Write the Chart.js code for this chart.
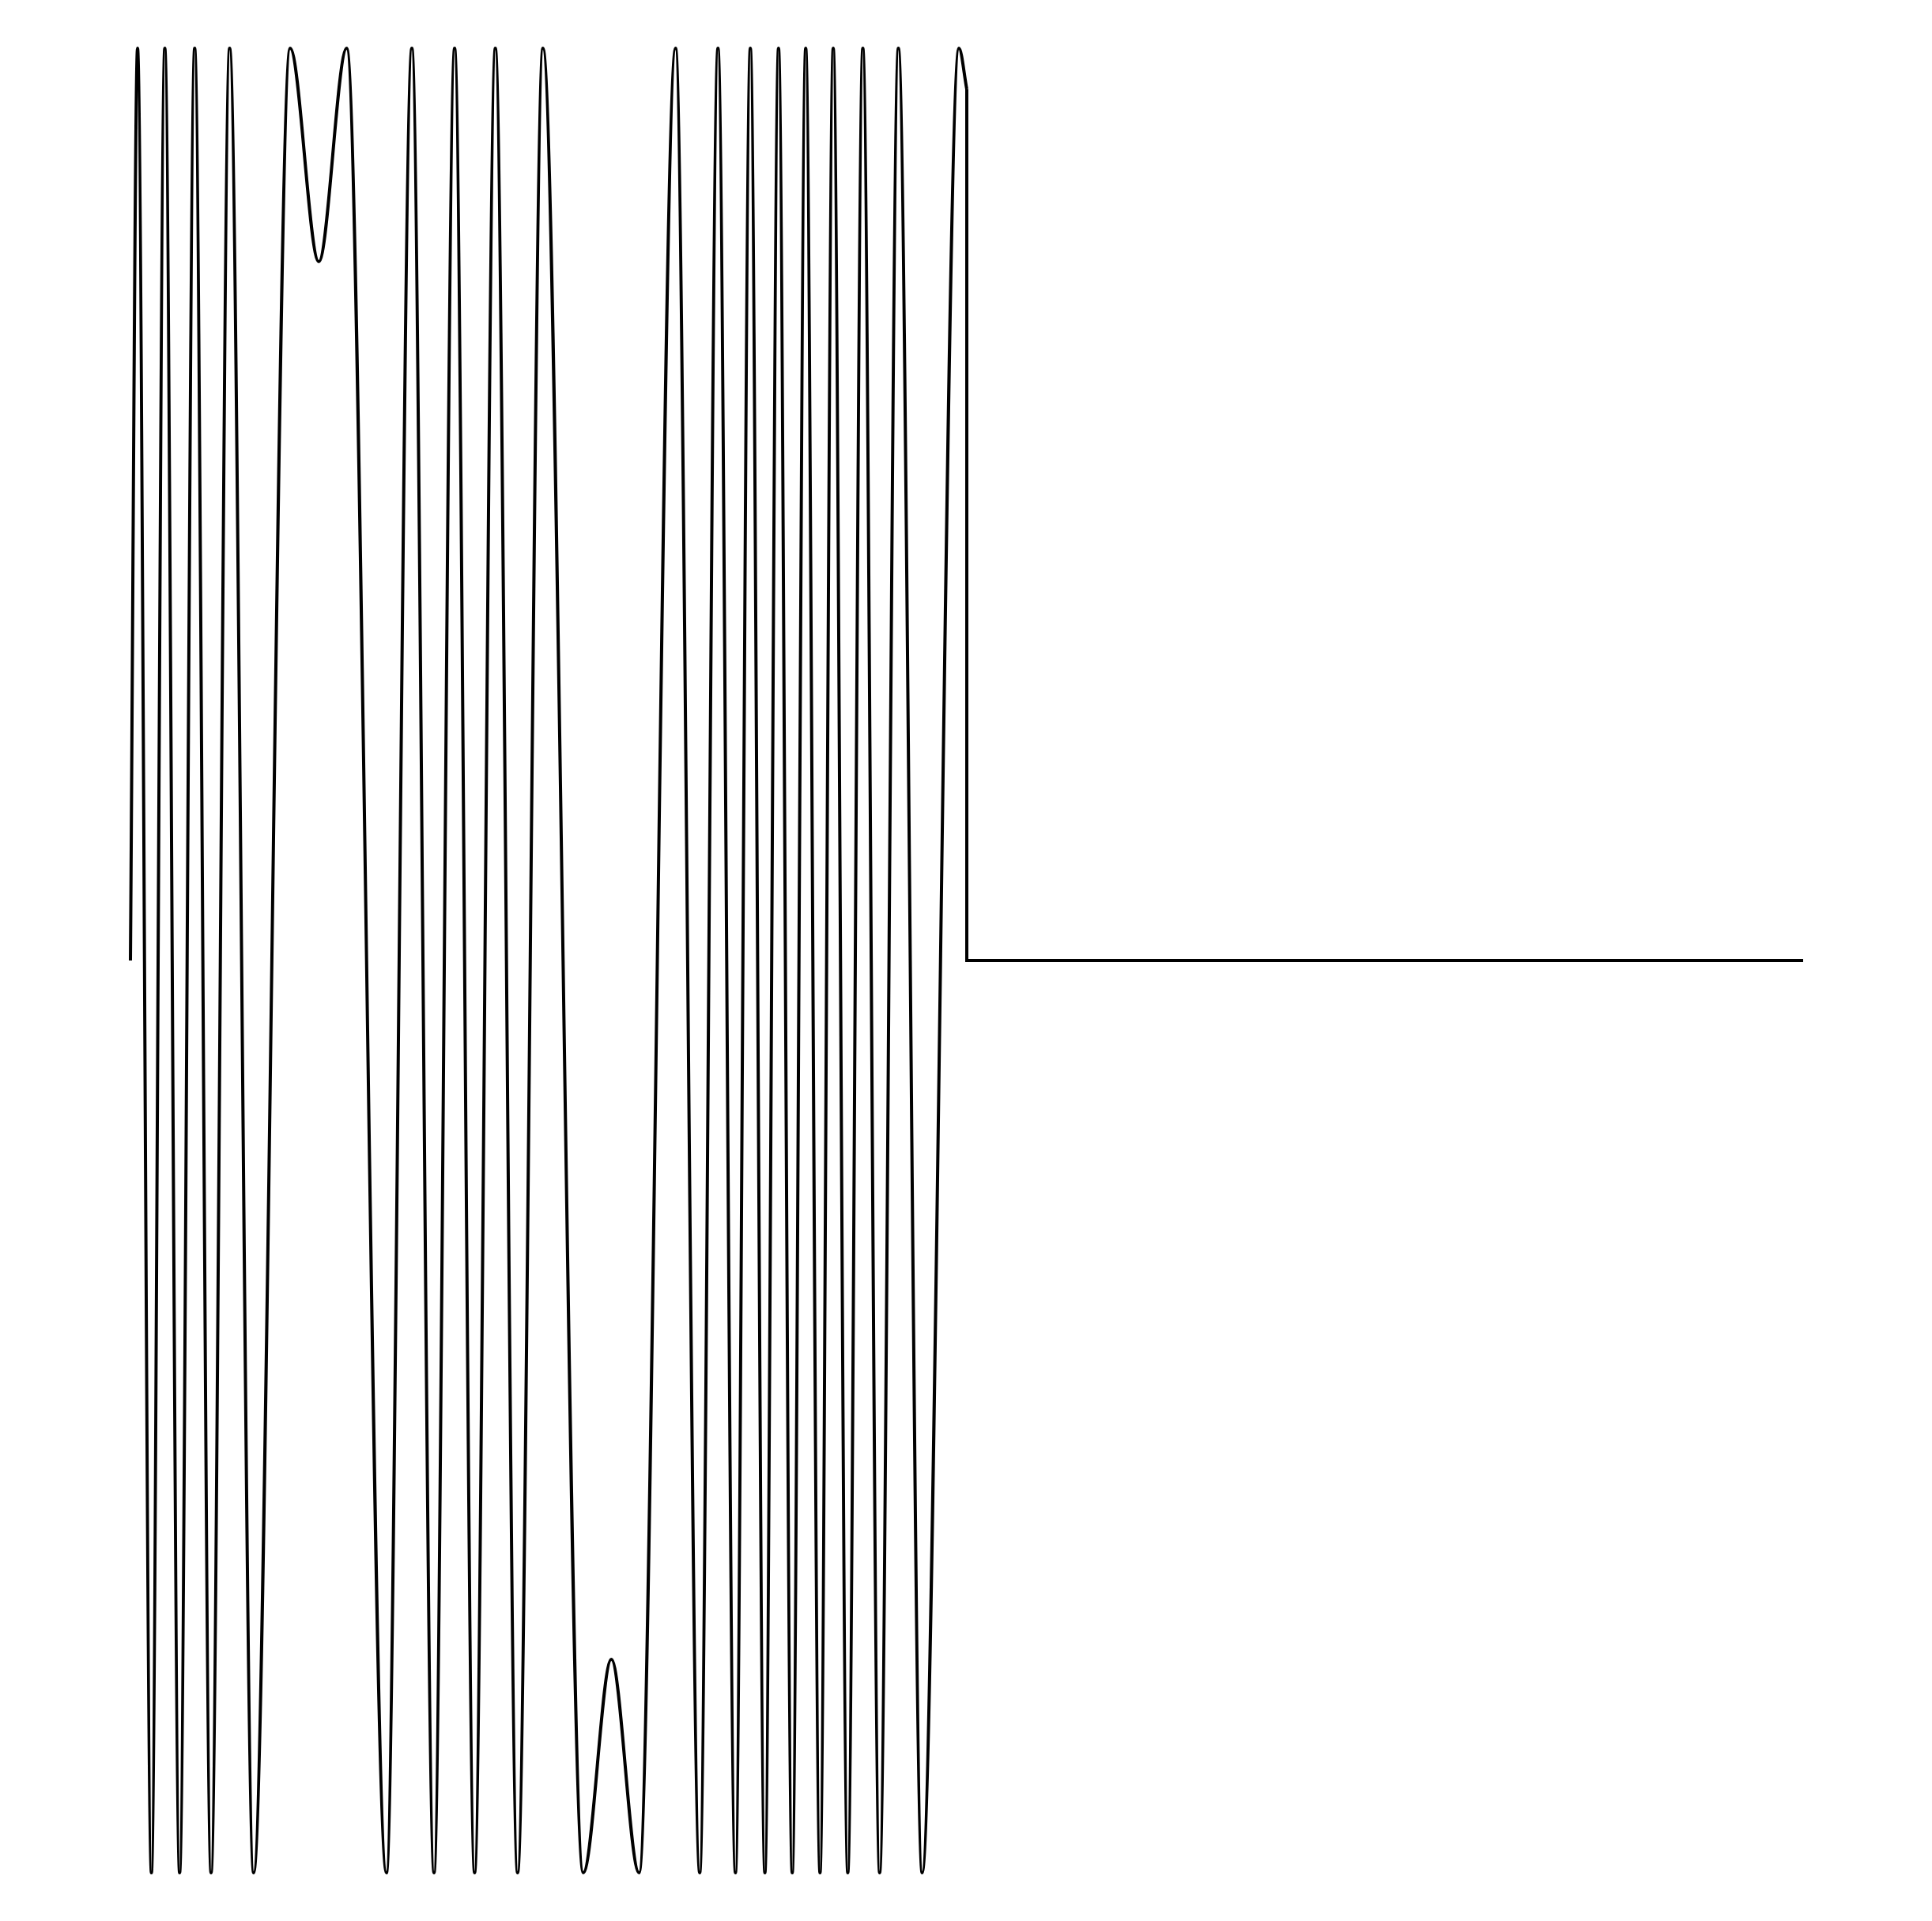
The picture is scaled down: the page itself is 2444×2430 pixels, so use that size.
<!DOCTYPE html>
<html>
<head>
<meta charset="utf-8">
<script src="https://cdn.jsdelivr.net/npm/chart.js@4.4.1/dist/chart.umd.min.js"></script>
<style>
    body { margin: 0; background: #fff; }
    #contenedor { width: 2444px; height: 2430px; }
</style>
</head>
<body>
<div id="contenedor"><canvas id="myChart"></canvas></div>
<script>
/*
    Datos: extremos de la onda (tiempo, amplitud)
*/
let tiempos = [0, 0.0085, 0.0251, 0.0411, 0.0588, 0.0768, 0.0964, 0.1186, 0.1473, 0.1909,
    0.2252, 0.2586, 0.3061, 0.3365, 0.3630, 0.3876, 0.4115, 0.4363, 0.4629, 0.4932,
    0.5414, 0.5750, 0.6082, 0.6518, 0.6807, 0.7025, 0.7234, 0.7412, 0.7586, 0.7749,
    0.7913, 0.8074, 0.8245, 0.8403, 0.8577, 0.8757, 0.8958, 0.9182, 0.9466, 0.9906, 1.0]
let amplitudes = [0, 1, -1, 1, -1, 1, -1, 1, -1, 1,
    0.766, 1, -1, 1, -1, 1, -1, 1, -1, 1,
    -1, -0.766, -1, 1, -1, 1, -1, 1, -1, 1,
    -1, 1, -1, 1, -1, 1, -1, 1, -1, 1, 0.955]

// despues de la onda la señal queda en cero
let tiemposCola = [1.0, 1.0, 2.0]
let amplitudesCola = [0.955, 0, 0]

/*
    Funcion: armar los puntos {x, y} a partir de dos listas
*/
function armarPuntos(xs, ys){
    let puntos = []
    for (let i = 0; i < xs.length; i++){
        puntos.push({ x: xs[i], y: ys[i] })
    }
    return puntos
}

/*
    Funcion: generar el grafico de la onda
*/
function generarGrafico(){
    let grafico = document.getElementById('myChart');
    let myChart = new Chart(grafico, {
        type: 'line',
        data: {
            datasets: [{
                data: armarPuntos(tiempos, amplitudes),
                borderColor: '#000',
                borderWidth: 4,
                pointRadius: 0,
                cubicInterpolationMode: 'monotone',
                fill: false,
                clip: false
            }, {
                data: armarPuntos(tiemposCola, amplitudesCola),
                borderColor: '#000',
                borderWidth: 4,
                pointRadius: 0,
                tension: 0,
                fill: false,
                clip: false
            }]
        },
        options: {
            responsive: true,
            maintainAspectRatio: false,
            animation: false,
            layout: {
                padding: { left: 165, right: 163, top: 61, bottom: 61 }
            },
            plugins: {
                legend: { display: false },
                tooltip: { enabled: false }
            },
            scales: {
                x: { type: 'linear', min: 0, max: 2, display: false },
                y: { min: -1, max: 1, display: false }
            }
        }
    });
}

generarGrafico()
</script>
</body>
</html>
